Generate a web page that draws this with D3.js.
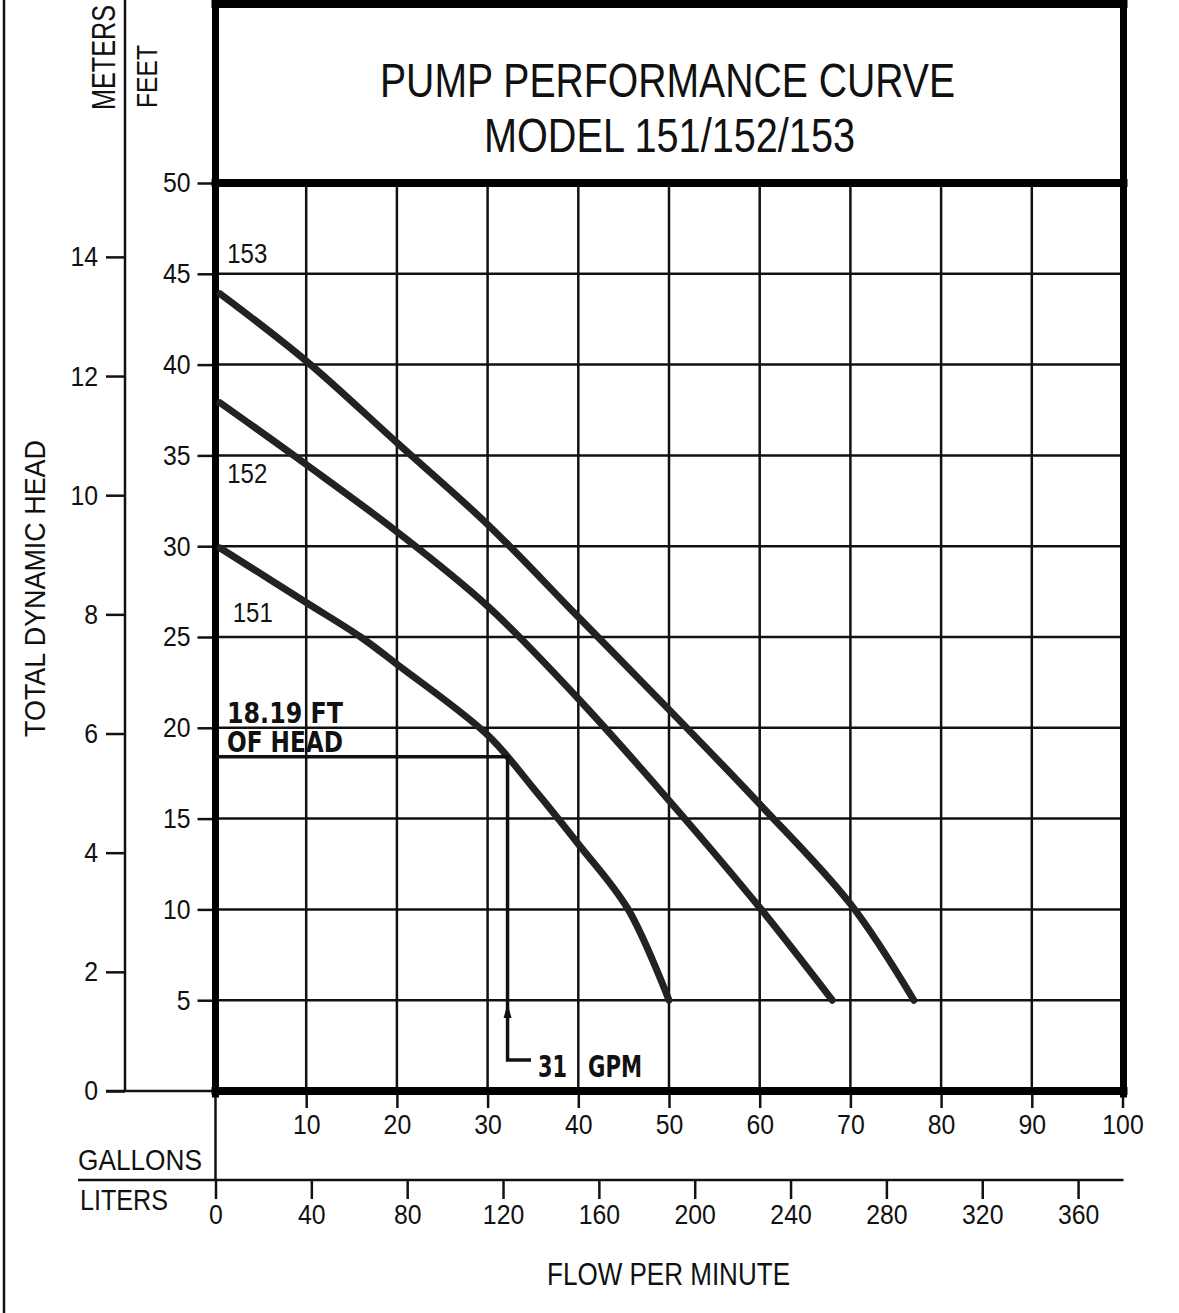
<!DOCTYPE html>
<html>
<head>
<meta charset="utf-8">
<script src="https://cdn.jsdelivr.net/npm/d3@7"></script>
<style>
  html, body { margin: 0; padding: 0; background: #fff; }
  svg { display: block; font-family: "Liberation Sans", Arial, sans-serif; }
  .axis text { font-size: 28px; fill: #111; }
  .axis line { stroke: #111; stroke-width: 2.5; }
  .hand { font-family: "DejaVu Sans", sans-serif; font-weight: bold; fill: #111; }
</style>
</head>
<body>
<svg id="chart" width="1179" height="1313"></svg>
<script>
// flow ticks (US gallons per minute) and liters per minute
var gpmTicks = [10, 20, 30, 40, 50, 60, 70, 80, 90, 100];
var literTicks = [0, 40, 80, 120, 160, 200, 240, 280, 320, 360];
// head ticks
var feetTicks = [5, 10, 15, 20, 25, 30, 35, 40, 45, 50];
var meterTicks = [0, 2, 4, 6, 8, 10, 12, 14];

// pump curves: [gpm, feet]
var curve151 = [[0.5, 29.9], [10, 26.9], [16, 25.0], [20, 23.5], [30, 19.6], [35, 16.7], [40, 13.6], [45.5, 10.0], [50, 5]];
var curve152 = [[0.5, 37.9], [10, 34.5], [20, 30.8], [30, 26.7], [40, 21.6], [50, 16.0], [60, 10.1], [68, 5]];
var curve153 = [[0.5, 43.9], [10, 40.2], [20, 35.7], [30, 31.2], [40, 26.1], [50, 21.0], [60, 15.8], [70, 10.3], [77, 5]];
var curveNames = ["151", "152", "153"];
var curveLabelAt = [[1.9, 25.8], [1.3, 33.5], [1.3, 45.6]]; // [gpm, feet] of label baseline

// duty point called out on the sheet
var dutyHeadLabel = "18.19 FT";
var dutyFlowLabel = "31";
var dutyPoint = [32.2, 18.4];

var svg = d3.select("#chart");
var pL = 215.5, pR = 1122.5, pT = 183, pB = 1091;

var x = d3.scaleLinear().domain([0, 100]).range([pL, pR]);
var xL = d3.scaleLinear().domain([0, 100 * 3.78541]).range([pL, pR]);
var y = d3.scaleLinear().domain([0, 50]).range([pB, pT]);
var yM = d3.scaleLinear().domain([0, 50 / 3.28084]).range([pB, pT]);

// page border on the left
svg.append("line").attr("x1", 4).attr("x2", 4).attr("y1", 0).attr("y2", 1313)
  .attr("stroke", "#111").attr("stroke-width", 2.5);

// grid
var grid = svg.append("g").attr("stroke", "#111").attr("stroke-width", 2.5);
grid.selectAll(".v").data(gpmTicks.filter(d => d < 100)).enter().append("line")
  .attr("x1", d => x(d)).attr("x2", d => x(d)).attr("y1", pT).attr("y2", pB);
grid.selectAll(".h").data(feetTicks.filter(d => d < 50)).enter().append("line")
  .attr("x1", pL).attr("x2", pR).attr("y1", d => y(d)).attr("y2", d => y(d));

// feet axis
var gFeet = svg.append("g").attr("class", "axis")
  .attr("transform", "translate(" + pL + ",0)")
  .call(d3.axisLeft(y).tickValues(feetTicks).tickSize(18).tickPadding(7).tickSizeOuter(0));
gFeet.select(".domain").remove();

// meters axis
var gMet = svg.append("g").attr("class", "axis")
  .attr("transform", "translate(125,0)")
  .call(d3.axisLeft(yM).tickValues(meterTicks).tickSize(19).tickPadding(8).tickSizeOuter(0));
gMet.select(".domain").remove();
svg.append("line").attr("x1", 125).attr("x2", 125).attr("y1", 0).attr("y2", pB)
  .attr("stroke", "#111").attr("stroke-width", 2.5);
svg.append("line").attr("x1", 106).attr("x2", pL).attr("y1", yM(0)).attr("y2", yM(0))
  .attr("stroke", "#111").attr("stroke-width", 2.5);

// gallons axis
var gGal = svg.append("g").attr("class", "axis")
  .attr("transform", "translate(0," + pB + ")")
  .call(d3.axisBottom(x).tickValues(gpmTicks).tickSize(17).tickPadding(6).tickSizeOuter(0));
gGal.select(".domain").remove();

// liters axis
var litY = 1180;
var gLit = svg.append("g").attr("class", "axis")
  .attr("transform", "translate(0," + litY + ")")
  .call(d3.axisBottom(xL).tickValues(literTicks).tickSize(19).tickPadding(5).tickSizeOuter(0));
gLit.select(".domain").remove();
svg.append("line").attr("x1", 78).attr("x2", pR + 1).attr("y1", litY).attr("y2", litY)
  .attr("stroke", "#111").attr("stroke-width", 2.5);
svg.append("line").attr("x1", pL).attr("x2", pL).attr("y1", pB).attr("y2", litY)
  .attr("stroke", "#111").attr("stroke-width", 2.5);

svg.selectAll(".axis text")
  .attr("textLength", function() { return this.textContent.length * 13.8; })
  .attr("lengthAdjust", "spacingAndGlyphs");

// heavy frame
var frame = svg.append("g").attr("stroke", "#000").attr("stroke-linecap", "square");
frame.append("line").attr("x1", pL).attr("x2", pL).attr("y1", 0).attr("y2", pB + 3).attr("stroke-width", 7);
frame.append("line").attr("x1", pR + 1).attr("x2", pR + 1).attr("y1", 0).attr("y2", pB + 3).attr("stroke-width", 7);
frame.append("line").attr("x1", pL).attr("x2", pR + 1).attr("y1", 4).attr("y2", 4).attr("stroke-width", 8);
frame.append("line").attr("x1", pL).attr("x2", pR + 1).attr("y1", y(50)).attr("y2", y(50)).attr("stroke-width", 8);
frame.append("line").attr("x1", pL).attr("x2", pR + 1).attr("y1", y(0)).attr("y2", y(0)).attr("stroke-width", 8);

// pump curves
var line = d3.line().x(d => x(d[0])).y(d => y(d[1])).curve(d3.curveCatmullRom.alpha(0.5));
svg.selectAll(".pump").data([curve151, curve152, curve153]).enter().append("path")
  .attr("class", "pump")
  .attr("d", line)
  .attr("fill", "none")
  .attr("stroke", "#222")
  .attr("stroke-width", 7)
  .attr("stroke-linecap", "round")
  .attr("stroke-linejoin", "round");

svg.selectAll(".clabel").data(curveNames).enter().append("text")
  .attr("x", (d, i) => x(curveLabelAt[i][0]))
  .attr("y", (d, i) => y(curveLabelAt[i][1]))
  .attr("font-size", 28).attr("fill", "#111")
  .attr("textLength", 40).attr("lengthAdjust", "spacingAndGlyphs")
  .text(d => d);

// duty point call-out
var dx = x(dutyPoint[0]), dy = y(dutyPoint[1]);
svg.append("path")
  .attr("d", "M" + pL + "," + dy + "H" + dx + "V1060H531")
  .attr("fill", "none").attr("stroke", "#111").attr("stroke-width", 3.5);
svg.append("path")
  .attr("d", "M" + dx + ",1004L" + (dx - 4) + ",1018L" + (dx + 4) + ",1018Z")
  .attr("fill", "#111");
svg.append("text").attr("class", "hand").attr("x", 227).attr("y", 723)
  .attr("font-size", 28).attr("textLength", 116).attr("lengthAdjust", "spacingAndGlyphs")
  .text(dutyHeadLabel);
svg.append("text").attr("class", "hand").attr("x", 227).attr("y", 752)
  .attr("font-size", 28).attr("textLength", 116).attr("lengthAdjust", "spacingAndGlyphs")
  .text("OF HEAD");
svg.append("text").attr("class", "hand").attr("x", 538).attr("y", 1077)
  .attr("font-size", 31).attr("textLength", 29).attr("lengthAdjust", "spacingAndGlyphs")
  .text(dutyFlowLabel);
svg.append("text").attr("class", "hand").attr("x", 588).attr("y", 1077)
  .attr("font-size", 31).attr("textLength", 54).attr("lengthAdjust", "spacingAndGlyphs")
  .text("GPM");

// titles
svg.append("text").attr("x", 380).attr("y", 97).attr("font-size", 48).attr("fill", "#111")
  .attr("textLength", 575).attr("lengthAdjust", "spacingAndGlyphs")
  .text("PUMP PERFORMANCE CURVE");
svg.append("text").attr("x", 484).attr("y", 152).attr("font-size", 48).attr("fill", "#111")
  .attr("textLength", 371).attr("lengthAdjust", "spacingAndGlyphs")
  .text("MODEL 151/152/153");

// axis titles
svg.append("text").attr("transform", "translate(115,110) rotate(-90)")
  .attr("font-size", 34).attr("fill", "#111")
  .attr("textLength", 105).attr("lengthAdjust", "spacingAndGlyphs").text("METERS");
svg.append("text").attr("transform", "translate(157,108) rotate(-90)")
  .attr("font-size", 30).attr("fill", "#111")
  .attr("textLength", 63).attr("lengthAdjust", "spacingAndGlyphs").text("FEET");
svg.append("text").attr("transform", "translate(45,737) rotate(-90)")
  .attr("font-size", 30).attr("fill", "#111")
  .attr("textLength", 297).attr("lengthAdjust", "spacingAndGlyphs").text("TOTAL DYNAMIC HEAD");
svg.append("text").attr("x", 78).attr("y", 1170).attr("font-size", 30).attr("fill", "#111")
  .attr("textLength", 124).attr("lengthAdjust", "spacingAndGlyphs").text("GALLONS");
svg.append("text").attr("x", 80).attr("y", 1210).attr("font-size", 30).attr("fill", "#111")
  .attr("textLength", 88).attr("lengthAdjust", "spacingAndGlyphs").text("LITERS");
svg.append("text").attr("x", 547).attr("y", 1285).attr("font-size", 31).attr("fill", "#111")
  .attr("textLength", 243).attr("lengthAdjust", "spacingAndGlyphs").text("FLOW PER MINUTE");
</script>
</body>
</html>
